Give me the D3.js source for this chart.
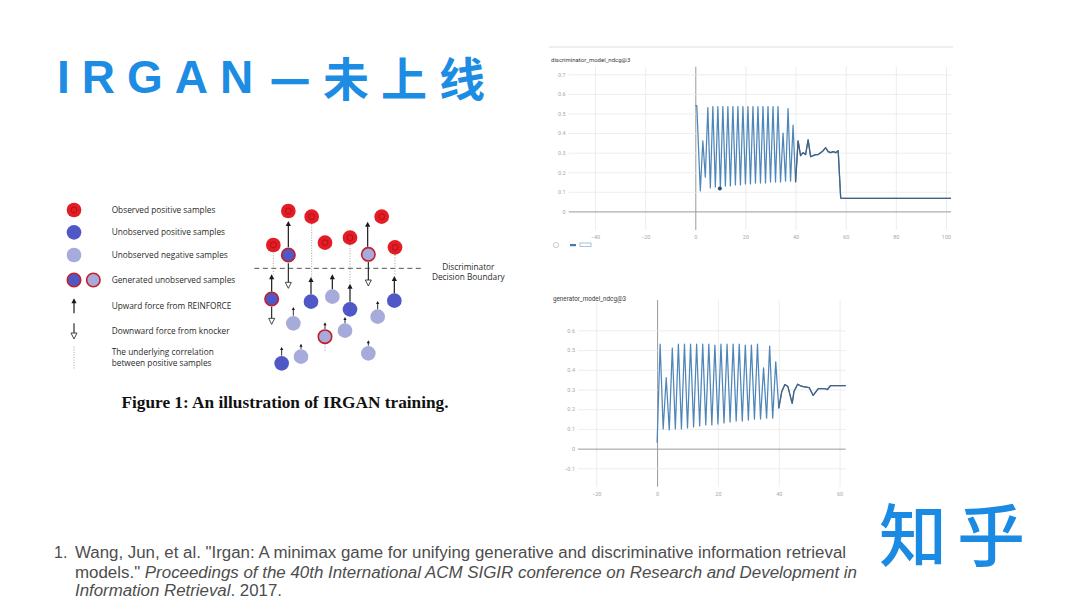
<!DOCTYPE html>
<html><head><meta charset="utf-8">
<script src="https://cdn.jsdelivr.net/npm/d3@7/dist/d3.min.js"></script>
<style>body{margin:0;background:#fff;} svg{display:block;}</style>
</head><body>
<script>
// ---------------- data ----------------
const titleLatin = "IRGAN";
const titleDash = "一";
const titleCJK = "未上线";
const logoText = "知乎";

const discTitle = "discriminator_model_ndcg@3";
const discXTicks = [-40, -20, 0, 20, 40, 60, 80, 100];
const discYTicks = [0, 0.1, 0.2, 0.3, 0.4, 0.5, 0.6, 0.7];
const discSteps = [0, 0.6, 2, 3, 4, 5, 6, 7, 8, 9, 10, 11, 12, 13, 14, 15, 16, 17, 18, 19, 20,
  21, 22, 23, 24, 25, 26, 27, 28, 29, 30, 31, 32, 33, 34, 35, 36, 37, 38, 39, 40,
  41, 42, 43, 44, 45, 46, 47, 48, 49, 50, 51, 52, 53, 54, 55, 56, 57, 58, 60, 70, 80, 90, 100, 102];
const discValues = [0.54, 0.54, 0.105, 0.36, 0.175, 0.53, 0.12, 0.535, 0.125, 0.535, 0.12, 0.535, 0.13, 0.535, 0.13, 0.535, 0.135, 0.535, 0.135, 0.535, 0.14,
  0.535, 0.14, 0.535, 0.145, 0.535, 0.145, 0.535, 0.145, 0.535, 0.15, 0.535, 0.15, 0.535, 0.15, 0.40, 0.155, 0.525, 0.155, 0.44, 0.15,
  0.36, 0.285, 0.30, 0.29, 0.365, 0.28, 0.285, 0.29, 0.29, 0.30, 0.31, 0.325, 0.305, 0.30, 0.305, 0.30, 0.31, 0.068, 0.067, 0.066, 0.067, 0.067, 0.067, 0.066];
const discHover = [9.8, 0.117];

const genTitle = "generator_model_ndcg@3";
const genXTicks = [-20, 0, 20, 40, 60];
const genYTicks = [-0.1, 0, 0.1, 0.2, 0.3, 0.4, 0.5, 0.6];
const genSteps = [0, 1, 2, 3, 4, 5, 6, 7, 8, 9, 10, 11, 12, 13, 14, 15, 16, 17, 18, 19, 20,
  21, 22, 23, 24, 25, 26, 27, 28, 29, 30, 31, 32, 33, 34, 35, 36, 37, 38, 39, 40,
  41, 42, 43, 44.4, 45, 46.2, 47, 48, 50, 51.3, 53, 55, 56, 57, 60, 62];
const genValues = [0.03, 0.53, 0.10, 0.36, 0.095, 0.51, 0.10, 0.53, 0.10, 0.53, 0.105, 0.53, 0.11, 0.53, 0.115, 0.53, 0.12, 0.53, 0.12, 0.525, 0.125,
  0.53, 0.13, 0.53, 0.135, 0.53, 0.14, 0.53, 0.14, 0.525, 0.145, 0.525, 0.15, 0.53, 0.15, 0.41, 0.155, 0.52, 0.155, 0.44, 0.205,
  0.29, 0.325, 0.315, 0.23, 0.29, 0.327, 0.32, 0.315, 0.31, 0.27, 0.305, 0.305, 0.30, 0.32, 0.32, 0.32];

// illustration (figure's own coordinate units)
const legendLabels = ["Observed positive samples", "Unobserved positive samples", "Unobserved negative samples",
  "Generated unobserved samples", "Upward force from REINFORCE", "Downward force from knocker",
  "The underlying correlation", "between positive samples"];
const boundaryLabel = ["Discriminator", "Decision Boundary"];
const captionText = "Figure 1: An illustration of IRGAN training.";
const observedPos = [[700, 48], [770, 65], [655, 150], [810, 143], [885, 128], [980, 65], [1020, 157]];
const unobservedPos = [[768, 320], [885, 343], [1018, 317], [680, 505]];
const unobservedNeg = [[832, 305], [715, 385], [870, 407], [968, 365], [738, 485], [940, 475]];
const generatedPos = [[700, 180], [650, 312]];
const generatedNeg = [[940, 178], [810, 425]];
const upForces = [[650, 290, 238], [700, 157, 78], [768, 298, 246], [832, 283, 238], [885, 320, 266], [938, 155, 80], [1018, 295, 243],
  [715, 362, 336], [870, 385, 366], [968, 343, 318], [680, 482, 456], [738, 462, 446], [810, 402, 382], [940, 452, 436]];
const downForces = [[650, 335, 388], [700, 205, 280], [940, 200, 273]];
const correlations = [[655, 173, 238], [770, 88, 246], [885, 151, 266], [1020, 180, 243], [810, 448, 470]];

const refLines = [
  [{t: "Wang, Jun, et al. \"Irgan: A minimax game for unifying generative and discriminative information retrieval", i: false}],
  [{t: "models.\" ", i: false}, {t: "Proceedings of the 40th International ACM SIGIR conference on Research and Development in", i: true}],
  [{t: "Information Retrieval", i: true}, {t: ". 2017.", i: false}]
];

// ---------------- drawing ----------------
const svg = d3.select("body").append("svg").attr("width", 1080).attr("height", 608);
const blue = "#1d8ce3";

// Title
svg.append("text").attr("x", 57).attr("y", 93).text(titleLatin)
  .style("font-family", "Liberation Sans, Arial, sans-serif").style("font-weight", "bold")
  .style("font-size", "46px").style("letter-spacing", "12px").attr("fill", blue);
svg.append("text").attr("x", 270).attr("y", 97).text(titleDash)
  .style("font-family", "Noto Sans CJK SC").style("font-weight", "bold")
  .style("font-size", "40px").attr("fill", blue);
svg.append("text").attr("x", 323).attr("y", 96).text(titleCJK)
  .style("font-family", "Noto Sans CJK SC").style("font-weight", "bold")
  .style("font-size", "46px").style("letter-spacing", "12px").attr("fill", blue);

// Logo
svg.append("text").attr("x", 879).attr("y", 561).text(logoText)
  .style("font-family", "Noto Sans CJK SC").style("font-weight", "500")
  .style("font-size", "68px").style("letter-spacing", "10px").attr("fill", "#1a8ae3");

// Reference
const ref = svg.append("g").style("font-family", "Liberation Sans, Arial, sans-serif").style("font-size", "16px").attr("fill", "#4d4d4d");
ref.append("text").attr("x", 54).attr("y", 558).text("1.");
const refX = [75, 75, 75], refY = [558, 578, 596], refW = [771, 782, 207];
refLines.forEach((parts, k) => {
  const t = ref.append("text").attr("x", refX[k]).attr("y", refY[k]).attr("textLength", refW[k]).attr("lengthAdjust", "spacingAndGlyphs");
  parts.forEach(p => t.append("tspan").text(p.t).style("font-style", p.i ? "italic" : "normal"));
});

// ---------------- tensorboard charts ----------------
function tbChart(cfg) {
  const g = svg.append("g");
  const x = d3.scaleLinear().domain(cfg.xDomain).range(cfg.xRange);
  const y = d3.scaleLinear().domain(cfg.yDomain).range(cfg.yRange);
  const fmt = d => (d === 0 ? "0" : d3.format("")(Math.round(d * 10) / 10));
  const xa = g.append("g").attr("transform", `translate(0,${cfg.yRange[0]})`)
    .call(d3.axisBottom(x).tickValues(cfg.xTicks).tickSize(-(cfg.yRange[0] - cfg.yRange[1])).tickPadding(5).tickFormat(d3.format("d")));
  const ya = g.append("g").attr("transform", `translate(${cfg.xRange[0]},0)`)
    .call(d3.axisLeft(y).tickValues(cfg.yTicks).tickSize(-(cfg.xRange[1] - cfg.xRange[0])).tickPadding(3).tickFormat(fmt));
  [xa, ya].forEach(a => {
    a.select(".domain").remove();
    a.selectAll(".tick line").attr("stroke", "#e8e8e8").attr("stroke-width", 0.8);
    a.selectAll(".tick text").attr("fill", "#a8a8a8").style("font-size", "5.5px").style("font-family", "Roboto, sans-serif");
  });
  xa.selectAll(".tick").filter(d => d === 0).select("line").attr("stroke", "#9a9a9a").attr("stroke-width", 1);
  ya.selectAll(".tick").filter(d => d === 0).select("line").attr("stroke", "#9a9a9a").attr("stroke-width", 1);
  g.append("text").attr("x", cfg.titlePos[0]).attr("y", cfg.titlePos[1]).text(cfg.title)
    .style("font-family", "Roboto, sans-serif").style("font-size", cfg.titleSize).attr("fill", "#3a3a3a");
  const pts = cfg.steps.map((s, i) => [s, cfg.values[i]]);
  const line = d3.line().x(d => x(d[0])).y(d => y(d[1]));
  g.append("path").datum(pts).attr("d", line).attr("fill", "none").attr("stroke", "#4f86b9").attr("stroke-width", 1.25).attr("stroke-linejoin", "round");
  g.append("path").datum(pts.filter(d => d[0] >= cfg.darkFrom)).attr("d", line).attr("fill", "none").attr("stroke", "#46617f").attr("stroke-width", 1.25).attr("stroke-linejoin", "round");
  return {g, x, y};
}

svg.append("line").attr("x1", 549).attr("x2", 953).attr("y1", 47).attr("y2", 47).attr("stroke", "#dedede").attr("stroke-width", 1);

const discChart = tbChart({xDomain: [-50.5, 102], xRange: [568.7, 951], yDomain: [-0.095, 0.739], yRange: [230, 66.7],
  xTicks: discXTicks, yTicks: discYTicks, steps: discSteps, values: discValues, title: discTitle,
  titlePos: [551, 62], titleSize: "6px", darkFrom: 40});
discChart.g.append("circle").attr("cx", discChart.x(discHover[0])).attr("cy", discChart.y(discHover[1])).attr("r", 2).attr("fill", "#2f4e70");
// little legend under the top chart
const lg = svg.append("g");
lg.append("circle").attr("cx", 556).attr("cy", 245).attr("r", 2.6).attr("fill", "none").attr("stroke", "#c8ccd2").attr("stroke-width", 1);
lg.append("rect").attr("x", 570).attr("y", 244).attr("width", 6).attr("height", 2.2).attr("fill", "#4a78a8");
lg.append("rect").attr("x", 580).attr("y", 243).attr("width", 11).attr("height", 3.5).attr("fill", "none").attr("stroke", "#8fb3d6").attr("stroke-width", 0.8);

tbChart({xDomain: [-26, 62], xRange: [578, 845.7], yDomain: [-0.193, 0.754], yRange: [486.7, 300],
  xTicks: genXTicks, yTicks: genYTicks, steps: genSteps, values: genValues, title: genTitle,
  titlePos: [553, 301], titleSize: "6.3px", darkFrom: 40});

// ---------------- illustration ----------------
const ill = svg.append("g");
const fx = d3.scaleLinear().domain([0, 1380]).range([55, 515]);
const fy = d3.scaleLinear().domain([0, 660]).range([195, 415]);
const R = fx(22) - fx(0);
const C = {red: "#e31c25", dark: "#4f58c6", light: "#a6abdc", ring: "#c3202b", ink: "#1a1a1a"};

function redCircle(p) {
  ill.append("circle").attr("cx", fx(p[0])).attr("cy", fy(p[1])).attr("r", R).attr("fill", C.red);
  ill.append("circle").attr("cx", fx(p[0])).attr("cy", fy(p[1])).attr("r", R * 0.4).attr("fill", "none").attr("stroke", "#9e0d14").attr("stroke-width", 0.7);
}
function plainCircle(p, fill) {
  ill.append("circle").attr("cx", fx(p[0])).attr("cy", fy(p[1])).attr("r", R).attr("fill", fill);
}
function ringCircle(p, fill) {
  ill.append("circle").attr("cx", fx(p[0])).attr("cy", fy(p[1])).attr("r", R - 0.6).attr("fill", fill).attr("stroke", C.ring).attr("stroke-width", 1.6);
}
function upArrow(a, big) {
  const X = fx(a[0]), y1 = fy(a[1]), y2 = fy(a[2]);
  const hl = big ? 5 : 3, hw = big ? 2.6 : 1.6;
  ill.append("line").attr("x1", X).attr("x2", X).attr("y1", y1).attr("y2", y2 + hl - 0.5).attr("stroke", C.ink).attr("stroke-width", big ? 1.2 : 0.9);
  ill.append("path").attr("d", `M${X},${y2}L${X - hw},${y2 + hl}L${X + hw},${y2 + hl}Z`).attr("fill", C.ink);
}
function downArrow(a) {
  const X = fx(a[0]), y1 = fy(a[1]), y2 = fy(a[2]);
  const hl = 6, hw = 3;
  ill.append("line").attr("x1", X).attr("x2", X).attr("y1", y1).attr("y2", y2 - hl).attr("stroke", C.ink).attr("stroke-width", 1.1);
  ill.append("path").attr("d", `M${X},${y2}L${X - hw},${y2 - hl}L${X + hw},${y2 - hl}Z`).attr("fill", "#fff").attr("stroke", C.ink).attr("stroke-width", 0.8);
}
function dotted(a) {
  ill.append("line").attr("x1", fx(a[0])).attr("x2", fx(a[0])).attr("y1", fy(a[1])).attr("y2", fy(a[2]))
    .attr("stroke", "#8a8a8a").attr("stroke-width", 0.8).attr("stroke-dasharray", "1,1.6");
}

// boundary
ill.append("line").attr("x1", fx(598)).attr("x2", fx(1100)).attr("y1", fy(220)).attr("y2", fy(220))
  .attr("stroke", "#555").attr("stroke-width", 1).attr("stroke-dasharray", "5,3.5");
correlations.forEach(dotted);
upForces.forEach(a => upArrow(a, (a[1] - a[2]) > 30));
downForces.forEach(downArrow);
observedPos.forEach(redCircle);
unobservedPos.forEach(p => plainCircle(p, C.dark));
unobservedNeg.forEach(p => plainCircle(p, C.light));
generatedPos.forEach(p => ringCircle(p, C.dark));
generatedNeg.forEach(p => ringCircle(p, C.light));

// legend
redCircle([57, 45]);
plainCircle([57, 112], C.dark);
plainCircle([57, 180], C.light);
ringCircle([57, 255], C.dark);
ringCircle([115, 255], C.light);
upArrow([57, 355, 310], true);
downArrow([57, 385, 432]);
dotted([57, 455, 522]);
const legY = [45, 112, 180, 255, 332, 408, 472, 505];
legendLabels.forEach((t, i) => {
  ill.append("text").attr("x", fx(170)).attr("y", fy(legY[i]) + 3).text(t)
    .style("font-family", "Open Sans, sans-serif").style("font-size", "8.3px").attr("fill", "#2a2a2a");
});
boundaryLabel.forEach((t, i) => {
  ill.append("text").attr("x", fx(1240)).attr("y", fy(215 + i * 30) + 3).attr("text-anchor", "middle").text(t)
    .style("font-family", "Open Sans, sans-serif").style("font-size", "8.3px").attr("fill", "#2a2a2a");
});
ill.append("text").attr("x", 121.5).attr("y", 408).attr("textLength", 327).attr("lengthAdjust", "spacingAndGlyphs")
  .text(captionText).style("font-family", "Liberation Serif, serif").style("font-weight", "bold").style("font-size", "16.5px").attr("fill", "#111");
</script>
</body></html>
